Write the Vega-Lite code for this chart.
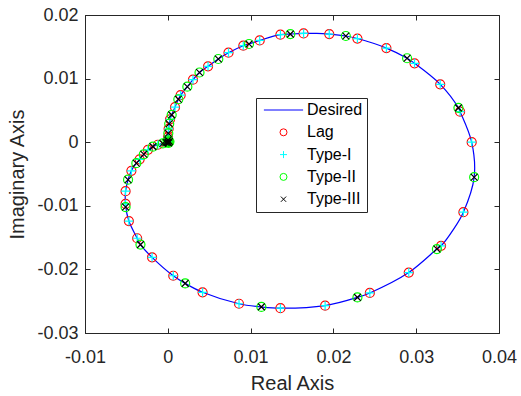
{
  "$schema": "https://vega.github.io/schema/vega-lite/v6.json",
  "width": 414,
  "height": 318,
  "autosize": {"type": "none"},
  "padding": {"left": 85, "top": 15, "right": 22, "bottom": 63},
  "background": "#ffffff",
  "datasets": {
    "desired": [
      {"i": 0, "x": 0, "y": 0},
      {"i": 1, "x": 0.00001, "y": 0.0003},
      {"i": 2, "x": 0.00003, "y": 0.0008},
      {"i": 3, "x": 0.00006, "y": 0.0014},
      {"i": 4, "x": 0.0001, "y": 0.0021},
      {"i": 5, "x": 0.00017, "y": 0.0029},
      {"i": 6, "x": 0.00027, "y": 0.0036},
      {"i": 7, "x": 0.00047, "y": 0.0043},
      {"i": 8, "x": 0.00087, "y": 0.0055},
      {"i": 9, "x": 0.00127, "y": 0.00675},
      {"i": 10, "x": 0.00155, "y": 0.0074},
      {"i": 11, "x": 0.00236, "y": 0.00873},
      {"i": 12, "x": 0.00304, "y": 0.00983},
      {"i": 13, "x": 0.00383, "y": 0.01096},
      {"i": 14, "x": 0.00486, "y": 0.01193},
      {"i": 15, "x": 0.0061, "y": 0.01308},
      {"i": 16, "x": 0.00733, "y": 0.01407},
      {"i": 17, "x": 0.00912, "y": 0.01517},
      {"i": 18, "x": 0.00981, "y": 0.01544},
      {"i": 19, "x": 0.0111, "y": 0.016},
      {"i": 20, "x": 0.0136, "y": 0.0169},
      {"i": 21, "x": 0.0148, "y": 0.017},
      {"i": 22, "x": 0.0164, "y": 0.0171},
      {"i": 23, "x": 0.018, "y": 0.01712},
      {"i": 24, "x": 0.0195, "y": 0.017},
      {"i": 25, "x": 0.0215, "y": 0.0167},
      {"i": 26, "x": 0.0229, "y": 0.0163},
      {"i": 27, "x": 0.0264, "y": 0.0148},
      {"i": 28, "x": 0.0289, "y": 0.0132},
      {"i": 29, "x": 0.0298, "y": 0.0124},
      {"i": 30, "x": 0.0329, "y": 0.0091},
      {"i": 31, "x": 0.0351, "y": 0.0054},
      {"i": 32, "x": 0.0353, "y": 0.0048},
      {"i": 33, "x": 0.0367, "y": 0.0},
      {"i": 34, "x": 0.037, "y": -0.0055},
      {"i": 35, "x": 0.0357, "y": -0.011},
      {"i": 36, "x": 0.0345, "y": -0.0137},
      {"i": 37, "x": 0.033, "y": -0.0163},
      {"i": 38, "x": 0.0325, "y": -0.0168},
      {"i": 39, "x": 0.0291, "y": -0.0205},
      {"i": 40, "x": 0.0244, "y": -0.0237},
      {"i": 41, "x": 0.0229, "y": -0.0244},
      {"i": 42, "x": 0.019, "y": -0.0257},
      {"i": 43, "x": 0.0136, "y": -0.0261},
      {"i": 44, "x": 0.0113, "y": -0.0259},
      {"i": 45, "x": 0.0086, "y": -0.0254},
      {"i": 46, "x": 0.0042, "y": -0.0236},
      {"i": 47, "x": 0.0021, "y": -0.0222},
      {"i": 48, "x": 0.00066, "y": -0.021},
      {"i": 49, "x": -0.0019, "y": -0.0181},
      {"i": 50, "x": -0.0033, "y": -0.0161},
      {"i": 51, "x": -0.0037, "y": -0.0151},
      {"i": 52, "x": -0.0047, "y": -0.0124},
      {"i": 53, "x": -0.0051, "y": -0.0099},
      {"i": 54, "x": -0.0051, "y": -0.0077},
      {"i": 55, "x": -0.0048, "y": -0.0059},
      {"i": 56, "x": -0.0044, "y": -0.0045},
      {"i": 57, "x": -0.0038, "y": -0.0033},
      {"i": 58, "x": -0.0034, "y": -0.0027},
      {"i": 59, "x": -0.0029, "y": -0.0019},
      {"i": 60, "x": -0.0024, "y": -0.0012},
      {"i": 61, "x": -0.0018, "y": -0.0007},
      {"i": 62, "x": -0.0012, "y": -0.0004},
      {"i": 63, "x": -0.0006, "y": -0.0002},
      {"i": 64, "x": -0.0002, "y": -0.00005}
    ],
    "markers": [
      {"s": "Lag", "x": 0.0001, "y": 0.0001},
      {"s": "Lag", "x": 0.00003, "y": 0.0008},
      {"s": "Lag", "x": 0.0001, "y": 0.0021},
      {"s": "Lag", "x": 0.00027, "y": 0.0036},
      {"s": "Lag", "x": 0.00087, "y": 0.0055},
      {"s": "Lag", "x": 0.00155, "y": 0.0074},
      {"s": "Lag", "x": 0.00304, "y": 0.00983},
      {"s": "Lag", "x": 0.00486, "y": 0.01193},
      {"s": "Lag", "x": 0.00733, "y": 0.01407},
      {"s": "Lag", "x": 0.00912, "y": 0.01517},
      {"s": "Lag", "x": 0.0111, "y": 0.016},
      {"s": "Lag", "x": 0.0136, "y": 0.0169},
      {"s": "Lag", "x": 0.0164, "y": 0.0171},
      {"s": "Lag", "x": 0.0195, "y": 0.017},
      {"s": "Lag", "x": 0.0229, "y": 0.0163},
      {"s": "Lag", "x": 0.0264, "y": 0.0148},
      {"s": "Lag", "x": 0.0298, "y": 0.0124},
      {"s": "Lag", "x": 0.0329, "y": 0.0091},
      {"s": "Lag", "x": 0.0353, "y": 0.0048},
      {"s": "Lag", "x": 0.0367, "y": 0.0},
      {"s": "Lag", "x": 0.0357, "y": -0.011},
      {"s": "Lag", "x": 0.033, "y": -0.0163},
      {"s": "Lag", "x": 0.0291, "y": -0.0205},
      {"s": "Lag", "x": 0.0244, "y": -0.0237},
      {"s": "Lag", "x": 0.019, "y": -0.0257},
      {"s": "Lag", "x": 0.0136, "y": -0.0261},
      {"s": "Lag", "x": 0.0086, "y": -0.0254},
      {"s": "Lag", "x": 0.0042, "y": -0.0236},
      {"s": "Lag", "x": 0.00066, "y": -0.021},
      {"s": "Lag", "x": -0.0019, "y": -0.0181},
      {"s": "Lag", "x": -0.0037, "y": -0.0151},
      {"s": "Lag", "x": -0.0047, "y": -0.0124},
      {"s": "Lag", "x": -0.0051, "y": -0.0097},
      {"s": "Lag", "x": -0.0051, "y": -0.0077},
      {"s": "Lag", "x": -0.0044, "y": -0.0045},
      {"s": "Lag", "x": -0.0034, "y": -0.0027},
      {"s": "Lag", "x": -0.0024, "y": -0.0012},
      {"s": "Lag", "x": -0.0012, "y": -0.0004},
      {"s": "Type-I", "x": 0.0001, "y": 0.0001},
      {"s": "Type-I", "x": 0.00003, "y": 0.0008},
      {"s": "Type-I", "x": 0.0001, "y": 0.0021},
      {"s": "Type-I", "x": 0.00027, "y": 0.0036},
      {"s": "Type-I", "x": 0.00087, "y": 0.0055},
      {"s": "Type-I", "x": 0.00155, "y": 0.0074},
      {"s": "Type-I", "x": 0.00304, "y": 0.00983},
      {"s": "Type-I", "x": 0.00486, "y": 0.01193},
      {"s": "Type-I", "x": 0.00733, "y": 0.01407},
      {"s": "Type-I", "x": 0.00912, "y": 0.01517},
      {"s": "Type-I", "x": 0.0111, "y": 0.016},
      {"s": "Type-I", "x": 0.0136, "y": 0.0169},
      {"s": "Type-I", "x": 0.0164, "y": 0.0171},
      {"s": "Type-I", "x": 0.0195, "y": 0.017},
      {"s": "Type-I", "x": 0.0229, "y": 0.0163},
      {"s": "Type-I", "x": 0.0264, "y": 0.0148},
      {"s": "Type-I", "x": 0.0298, "y": 0.0124},
      {"s": "Type-I", "x": 0.0329, "y": 0.0091},
      {"s": "Type-I", "x": 0.0353, "y": 0.0048},
      {"s": "Type-I", "x": 0.0367, "y": 0.0},
      {"s": "Type-I", "x": 0.0357, "y": -0.011},
      {"s": "Type-I", "x": 0.033, "y": -0.0163},
      {"s": "Type-I", "x": 0.0291, "y": -0.0205},
      {"s": "Type-I", "x": 0.0244, "y": -0.0237},
      {"s": "Type-I", "x": 0.019, "y": -0.0257},
      {"s": "Type-I", "x": 0.0136, "y": -0.0261},
      {"s": "Type-I", "x": 0.0086, "y": -0.0254},
      {"s": "Type-I", "x": 0.0042, "y": -0.0236},
      {"s": "Type-I", "x": 0.00066, "y": -0.021},
      {"s": "Type-I", "x": -0.0019, "y": -0.0181},
      {"s": "Type-I", "x": -0.0037, "y": -0.0151},
      {"s": "Type-I", "x": -0.0047, "y": -0.0124},
      {"s": "Type-I", "x": -0.0051, "y": -0.0097},
      {"s": "Type-I", "x": -0.0051, "y": -0.0077},
      {"s": "Type-I", "x": -0.0044, "y": -0.0045},
      {"s": "Type-I", "x": -0.0034, "y": -0.0027},
      {"s": "Type-I", "x": -0.0024, "y": -0.0012},
      {"s": "Type-I", "x": -0.0012, "y": -0.0004},
      {"s": "Type-II", "x": 0, "y": 0},
      {"s": "Type-II", "x": 0.0002, "y": 0.0001},
      {"s": "Type-II", "x": 0.0001, "y": -0.0001},
      {"s": "Type-II", "x": 0.00001, "y": 0.0003},
      {"s": "Type-II", "x": 0.00006, "y": 0.0014},
      {"s": "Type-II", "x": 0.00017, "y": 0.0029},
      {"s": "Type-II", "x": 0.00047, "y": 0.0043},
      {"s": "Type-II", "x": 0.00127, "y": 0.00675},
      {"s": "Type-II", "x": 0.00236, "y": 0.00873},
      {"s": "Type-II", "x": 0.00383, "y": 0.01096},
      {"s": "Type-II", "x": 0.0061, "y": 0.01308},
      {"s": "Type-II", "x": 0.00981, "y": 0.01544},
      {"s": "Type-II", "x": 0.0148, "y": 0.017},
      {"s": "Type-II", "x": 0.0215, "y": 0.0167},
      {"s": "Type-II", "x": 0.0289, "y": 0.0132},
      {"s": "Type-II", "x": 0.0351, "y": 0.0054},
      {"s": "Type-II", "x": 0.037, "y": -0.0055},
      {"s": "Type-II", "x": 0.0325, "y": -0.0168},
      {"s": "Type-II", "x": 0.0229, "y": -0.0244},
      {"s": "Type-II", "x": 0.0113, "y": -0.0259},
      {"s": "Type-II", "x": 0.0021, "y": -0.0222},
      {"s": "Type-II", "x": -0.0033, "y": -0.0161},
      {"s": "Type-II", "x": -0.0051, "y": -0.0102},
      {"s": "Type-II", "x": -0.0048, "y": -0.0059},
      {"s": "Type-II", "x": -0.0038, "y": -0.0033},
      {"s": "Type-II", "x": -0.0029, "y": -0.0019},
      {"s": "Type-II", "x": -0.0018, "y": -0.0007},
      {"s": "Type-II", "x": -0.0006, "y": -0.0002},
      {"s": "Type-II", "x": -0.0002, "y": -0.00005},
      {"s": "Type-III", "x": 0, "y": 0},
      {"s": "Type-III", "x": 0.0002, "y": 0.0001},
      {"s": "Type-III", "x": 0.0001, "y": -0.0001},
      {"s": "Type-III", "x": 0.00001, "y": 0.0003},
      {"s": "Type-III", "x": 0.00006, "y": 0.0014},
      {"s": "Type-III", "x": 0.00017, "y": 0.0029},
      {"s": "Type-III", "x": 0.00047, "y": 0.0043},
      {"s": "Type-III", "x": 0.00127, "y": 0.00675},
      {"s": "Type-III", "x": 0.00236, "y": 0.00873},
      {"s": "Type-III", "x": 0.00383, "y": 0.01096},
      {"s": "Type-III", "x": 0.0061, "y": 0.01308},
      {"s": "Type-III", "x": 0.00981, "y": 0.01544},
      {"s": "Type-III", "x": 0.0148, "y": 0.017},
      {"s": "Type-III", "x": 0.0215, "y": 0.0167},
      {"s": "Type-III", "x": 0.0289, "y": 0.0132},
      {"s": "Type-III", "x": 0.0351, "y": 0.0054},
      {"s": "Type-III", "x": 0.037, "y": -0.0055},
      {"s": "Type-III", "x": 0.0325, "y": -0.0168},
      {"s": "Type-III", "x": 0.0229, "y": -0.0244},
      {"s": "Type-III", "x": 0.0113, "y": -0.0259},
      {"s": "Type-III", "x": 0.0021, "y": -0.0222},
      {"s": "Type-III", "x": -0.0033, "y": -0.0161},
      {"s": "Type-III", "x": -0.0051, "y": -0.0102},
      {"s": "Type-III", "x": -0.0048, "y": -0.0059},
      {"s": "Type-III", "x": -0.0038, "y": -0.0033},
      {"s": "Type-III", "x": -0.0029, "y": -0.0019},
      {"s": "Type-III", "x": -0.0018, "y": -0.0007},
      {"s": "Type-III", "x": -0.0006, "y": -0.0002},
      {"s": "Type-III", "x": -0.0002, "y": -0.00005}
    ]
  },
  "layer": [
    {
      "data": {"name": "desired"},
      "mark": {"type": "line", "interpolate": "catmull-rom", "color": "#0000FF", "strokeWidth": 1.2},
      "encoding": {
        "x": {"field": "x", "type": "quantitative",
          "scale": {"domain": [-0.01, 0.04], "nice": false, "zero": false},
          "axis": {"orient": "bottom", "title": "Real Axis", "values": [-0.01, 0, 0.01, 0.02, 0.03, 0.04],
            "labelExpr": "'' + round(datum.value*100)/100", "labelFlush": false, "labelOverlap": false,
            "labelPadding": 20, "titlePadding": 7}},
        "y": {"field": "y", "type": "quantitative",
          "scale": {"domain": [-0.03, 0.02], "nice": false, "zero": false},
          "axis": {"orient": "left", "title": "Imaginary Axis", "values": [-0.03, -0.02, -0.01, 0, 0.01, 0.02],
            "labelExpr": "'' + round(datum.value*100)/100", "labelFlush": false, "labelOverlap": false,
            "labelPadding": 12, "titlePadding": 9}},
        "order": {"field": "i", "type": "quantitative"}
      }
    },
    {
      "data": {"name": "markers"},
      "mark": {"type": "point", "filled": false, "size": 81, "strokeWidth": 1.2, "opacity": 1},
      "encoding": {
        "x": {"field": "x", "type": "quantitative",
          "axis": {"orient": "top", "title": null, "labels": false, "domain": false, "values": [-0.01, 0, 0.01, 0.02, 0.03, 0.04]}},
        "y": {"field": "y", "type": "quantitative",
          "axis": {"orient": "right", "title": null, "labels": false, "domain": false, "values": [-0.03, -0.02, -0.01, 0, 0.01, 0.02]}},
        "color": {"field": "s", "type": "nominal",
          "scale": {"domain": ["Desired", "Lag", "Type-I", "Type-II", "Type-III"],
            "range": ["#0000FF", "#FF0000", "#00FFFF", "#00FF00", "#000000"]},
          "legend": {"title": null, "orient": "none", "legendX": 171, "legendY": 83, "padding": 4, "rowPadding": 6.3,
            "symbolOffset": 15.5, "labelOffset": 15.5, "symbolSize": 49, "symbolStrokeWidth": 1}},
        "shape": {"field": "s", "type": "nominal",
          "scale": {"domain": ["Desired", "Lag", "Type-I", "Type-II", "Type-III"],
            "range": ["M-5.6,0L5.6,0", "circle", "M0,-1L0,1M-1,0L1,0", "circle", "M-0.75,-0.75L0.75,0.75M-0.75,0.75L0.75,-0.75"]},
          "legend": {"title": null, "orient": "none", "legendX": 171, "legendY": 83, "padding": 4, "rowPadding": 6.3,
            "symbolOffset": 15.5, "labelOffset": 15.5, "symbolSize": 49, "symbolStrokeWidth": 1}}
      }
    }
  ],
  "resolve": {"axis": {"x": "independent", "y": "independent"}},
  "config": {
    "view": {"stroke": "#262626", "strokeWidth": 1},
    "axis": {"grid": false, "domainColor": "#262626", "tickColor": "#262626", "labelColor": "#262626", "titleColor": "#262626",
      "labelFont": "Liberation Sans", "titleFont": "Liberation Sans", "labelFontSize": 18, "titleFontSize": 20,
      "titleFontWeight": "normal", "tickSize": -5, "tickWidth": 1, "domainWidth": 1},
    "legend": {"labelFont": "Liberation Sans", "labelFontSize": 16, "labelColor": "#000000", "strokeColor": "#262626",
      "fillColor": "#ffffff", "strokeWidth": 1, "cornerRadius": 0, "labelLimit": 200}
  }
}
